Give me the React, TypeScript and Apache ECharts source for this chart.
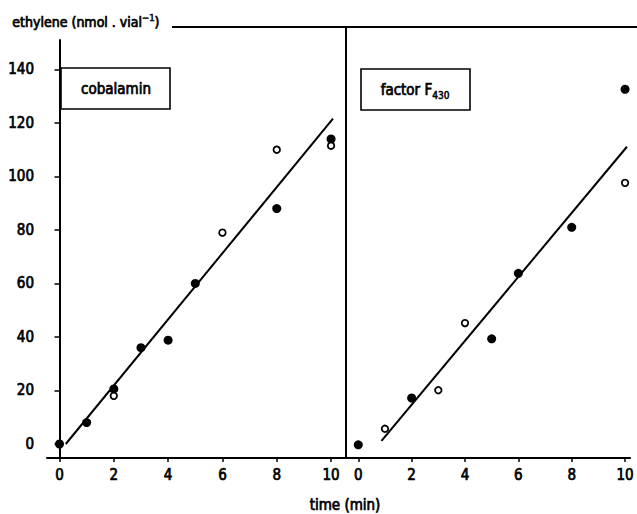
import React, { useEffect, useRef } from "react";
import * as echarts from "echarts";

// x = time (min), y = ethylene (nmol . vial^-1)
const yTicks = [0, 20, 40, 60, 80, 100, 120, 140];
const xTicks = [0, 2, 4, 6, 8, 10];

const cobalaminFilled: [number, number][] = [
  [0, 0], [1, 8], [2, 20.6], [3, 36], [4, 38.8], [5, 60], [8, 88], [10, 114],
];
const cobalaminOpen: [number, number][] = [
  [2, 18], [6, 79], [8, 110], [10, 111.5],
];
const cobalaminFit: [number, number][] = [[0.23, 0], [10.07, 121.6]];

const f430Filled: [number, number][] = [
  [0, -0.3], [2, 17.2], [5, 39.3], [6, 63.8], [8, 81], [10, 132.6],
];
const f430Open: [number, number][] = [
  [1, 5.7], [3, 20.1], [4, 45.2], [10, 97.6],
];
const f430Fit: [number, number][] = [[0.87, 1.2], [10.07, 111.1]];

const FONT = "'DejaVu Sans Condensed', 'Liberation Sans Narrow', 'DejaVu Sans', sans-serif";
const INK = "#000";
const HEAVY = { textBorderColor: INK, textBorderWidth: 0.7 };
const GHEAVY = { stroke: INK, lineWidth: 0.7 };

export default function App() {
  const ref = useRef<HTMLDivElement>(null);
  useEffect(() => {
    if (!ref.current) return;
    const chart = echarts.init(ref.current, null, { renderer: "svg" });
    const xAxisCommon = (gridIndex: number, max: number) => ({
      type: "value" as const,
      gridIndex,
      min: -0.46,
      max,
      splitLine: { show: false },
      axisLine: { show: true, onZero: false, lineStyle: { color: INK, width: 2 } },
      axisTick: { show: true, length: 4, customValues: xTicks, lineStyle: { color: INK, width: 1.5 } },
      axisLabel: {
        customValues: xTicks,
        margin: 9,
        fontSize: 15,
        color: INK,
        fontFamily: FONT,
        showMinLabel: true,
        showMaxLabel: true,
        ...HEAVY,
      },
    });
    const filled = (name: string, data: [number, number][], idx: number) => ({
      name,
      type: "scatter" as const,
      xAxisIndex: idx,
      yAxisIndex: idx,
      data,
      symbol: "circle",
      symbolSize: 9,
      itemStyle: { color: INK, opacity: 1 },
      clip: false,
    });
    const open = (name: string, data: [number, number][], idx: number) => ({
      name,
      type: "scatter" as const,
      xAxisIndex: idx,
      yAxisIndex: idx,
      data,
      symbol: "circle",
      symbolSize: 6.5,
      itemStyle: { color: "#fff", borderColor: INK, borderWidth: 1.8, opacity: 1 },
      clip: false,
    });
    const fit = (name: string, data: [number, number][], idx: number) => ({
      name,
      type: "line" as const,
      xAxisIndex: idx,
      yAxisIndex: idx,
      data,
      showSymbol: false,
      symbol: "none",
      lineStyle: { color: INK, width: 2 },
      z: 1,
    });
    chart.setOption({
      animation: false,
      backgroundColor: "#fff",
      grid: [
        { left: 47, right: 291, top: 40, bottom: 56 },
        { left: 346, right: 0, top: 40, bottom: 56 },
      ],
      xAxis: [xAxisCommon(0, 10.55), xAxisCommon(1, 10.19)],
      yAxis: [
        {
          type: "value",
          gridIndex: 0,
          min: -5.23,
          max: 151,
          splitLine: { show: false },
          axisLine: { show: true, lineStyle: { color: INK, width: 2 } },
          axisTick: { show: true, length: 5, customValues: yTicks, lineStyle: { color: INK, width: 1.5 } },
          axisLabel: {
            customValues: yTicks,
            margin: 13,
            fontSize: 15,
            color: INK,
            fontFamily: FONT,
            ...HEAVY,
          },
        },
        {
          type: "value",
          gridIndex: 1,
          min: -5.23,
          max: 151,
          show: false,
          splitLine: { show: false },
        },
      ],
      series: [
        fit("cobalamin fit", cobalaminFit, 0),
        filled("cobalamin (filled)", cobalaminFilled, 0),
        open("cobalamin (open)", cobalaminOpen, 0),
        fit("factor F430 fit", f430Fit, 1),
        filled("factor F430 (filled)", f430Filled, 1),
        open("factor F430 (open)", f430Open, 1),
      ],
      graphic: [
        {
          type: "line",
          shape: { x1: 172, y1: 27, x2: 637, y2: 27 },
          style: { stroke: INK, lineWidth: 2 },
        },
        {
          type: "line",
          shape: { x1: 346, y1: 27, x2: 346, y2: 458 },
          style: { stroke: INK, lineWidth: 2 },
        },
        {
          type: "text",
          left: 12,
          top: 12,
          style: {
            text: "{a|ethylene (nmol . vial}{s|−1}{a|)}",
            fill: INK,
            ...GHEAVY,
            rich: {
              a: { fontSize: 14, fontFamily: FONT, lineHeight: 19, fill: INK, ...GHEAVY },
              s: { fontSize: 9.5, fontFamily: FONT, lineHeight: 11, verticalAlign: "top", fill: INK, stroke: INK, lineWidth: 0.5 },
            },
          },
        },
        {
          type: "rect",
          shape: { x: 61, y: 68, width: 109, height: 41 },
          style: { fill: "#fff", stroke: INK, lineWidth: 1.6 },
        },
        {
          type: "text",
          x: 116,
          y: 89,
          style: {
            text: "cobalamin",
            fill: INK,
            fontSize: 15,
            fontFamily: FONT,
            align: "center",
            verticalAlign: "middle",
            ...GHEAVY,
          },
        },
        {
          type: "rect",
          shape: { x: 361, y: 69, width: 109, height: 41 },
          style: { fill: "#fff", stroke: INK, lineWidth: 1.6 },
        },
        {
          type: "text",
          x: 415,
          y: 90,
          style: {
            text: "{a|factor F}{b|430}",
            fill: INK,
            align: "center",
            verticalAlign: "middle",
            ...GHEAVY,
            rich: {
              a: { fontSize: 15, fontFamily: FONT, lineHeight: 20, fill: INK, ...GHEAVY },
              b: { fontSize: 10, fontFamily: FONT, lineHeight: 10, verticalAlign: "bottom", fill: INK, stroke: INK, lineWidth: 0.5 },
            },
          },
        },
        {
          type: "text",
          x: 345,
          y: 505,
          style: {
            text: "time (min)",
            fill: INK,
            fontSize: 15,
            fontFamily: FONT,
            align: "center",
            verticalAlign: "middle",
            ...GHEAVY,
          },
        },
      ],
    });
    return () => chart.dispose();
  }, []);
  return (
    <div
      ref={ref}
      style={{ position: "fixed", left: 0, top: 0, width: 637, height: 514, background: "#fff" }}
    />
  );
}
